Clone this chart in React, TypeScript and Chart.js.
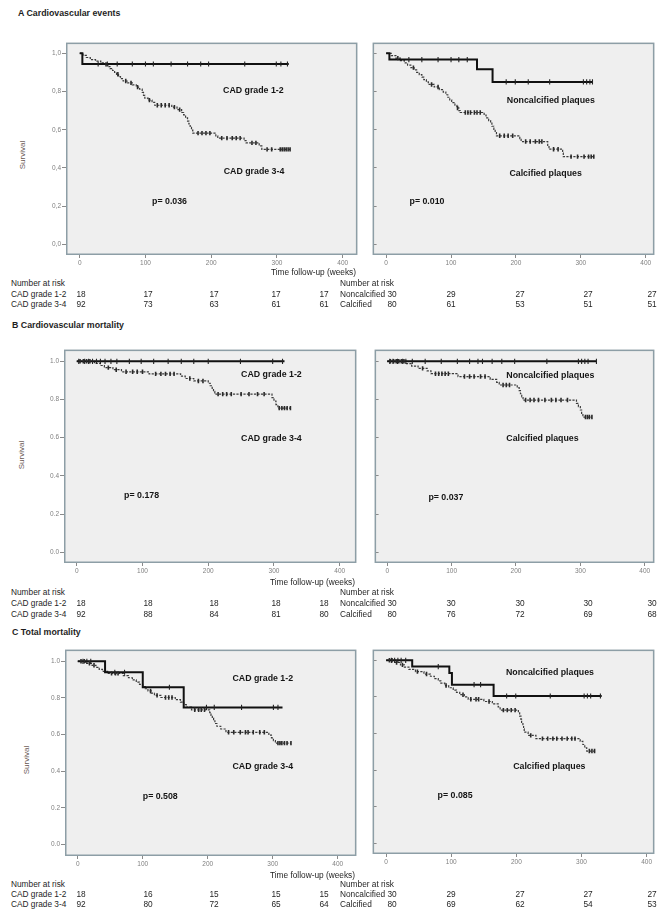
import React, { useEffect, useRef } from 'react';
import { Chart, registerables } from 'chart.js';
Chart.register(...registerables);

type Step = [number, number];

const FONT = '"Liberation Sans", Arial, sans-serif';

// ---------------- DATA ----------------
const xTicks = [0, 100, 200, 300, 400];
const yTicks = [0, 0.2, 0.4, 0.6, 0.8, 1.0];

// Number at risk (at 0,100,200,300,400 weeks)
const riskA_cad12 = [18, 17, 17, 17, 17];
const riskA_cad34 = [92, 73, 63, 61, 61];
const riskA_noncalc = [30, 29, 27, 27, 27];
const riskA_calc = [80, 61, 53, 51, 51];
const riskB_cad12 = [18, 18, 18, 18, 18];
const riskB_cad34 = [92, 88, 84, 81, 80];
const riskB_noncalc = [30, 30, 30, 30, 30];
const riskB_calc = [80, 76, 72, 69, 68];
const riskC_cad12 = [18, 16, 15, 15, 15];
const riskC_cad34 = [92, 80, 72, 65, 64];
const riskC_noncalc = [30, 29, 27, 27, 27];
const riskC_calc = [80, 69, 62, 54, 53];

// A: Cardiovascular events — CAD grade
const A_cad12: Step[] = [[0, 1], [4, 0.944], [318, 0.944]];
const A_cad12_cens = [28, 42, 57, 80, 100, 112, 139, 164, 184, 196, 251, 299, 306, 316];
const A_cad34: Step[] = [[0, 1], [5, 0.989], [10, 0.978], [16, 0.967], [24, 0.959], [32, 0.95], [38, 0.942], [43, 0.93], [46, 0.92], [50, 0.91], [53, 0.9], [56, 0.89], [59, 0.878], [62, 0.867], [66, 0.855], [72, 0.845], [80, 0.835], [86, 0.823], [91, 0.812], [95, 0.795], [97, 0.78], [99, 0.765], [104, 0.755], [110, 0.743], [114, 0.728], [140, 0.718], [148, 0.705], [155, 0.69], [158, 0.678], [161, 0.662], [164, 0.645], [166, 0.63], [168, 0.612], [170, 0.598], [172, 0.582], [207, 0.568], [210, 0.556], [250, 0.543], [253, 0.531], [273, 0.515], [277, 0.497], [320, 0.497]];
const A_cad34_cens = [40, 58, 70, 78, 88, 106, 118, 124, 130, 136, 144, 152, 180, 186, 192, 198, 216, 224, 232, 238, 244, 262, 268, 285, 292, 305, 308, 311, 314, 317, 320];

// A: Cardiovascular events — plaques
const A_noncalc: Step[] = [[0, 1], [5, 0.967], [140, 0.916], [164, 0.85], [318, 0.85]];
const A_noncalc_cens = [35, 55, 80, 100, 112, 125, 185, 199, 219, 252, 304, 309, 314, 318];
const A_calc: Step[] = [[0, 1], [8, 0.988], [15, 0.975], [22, 0.962], [28, 0.95], [33, 0.938], [38, 0.925], [43, 0.913], [47, 0.9], [51, 0.888], [55, 0.875], [58, 0.862], [62, 0.85], [65, 0.837], [74, 0.824], [82, 0.81], [88, 0.797], [92, 0.783], [95, 0.77], [98, 0.756], [101, 0.742], [106, 0.728], [109, 0.714], [112, 0.7], [114, 0.69], [151, 0.676], [154, 0.662], [158, 0.648], [161, 0.634], [163, 0.618], [166, 0.602], [168, 0.585], [170, 0.568], [206, 0.553], [208, 0.538], [249, 0.518], [251, 0.498], [272, 0.478], [273, 0.459], [321, 0.459]];
const A_calc_cens = [18, 42, 70, 80, 110, 122, 126, 130, 136, 140, 145, 175, 182, 188, 195, 215, 222, 230, 236, 240, 258, 265, 285, 295, 305, 312, 316, 320];

// B: Cardiovascular mortality — CAD grade
const B_cad12: Step[] = [[0, 1], [316, 1]];
const B_cad12_cens = [3, 12, 18, 24, 30, 36, 43, 52, 61, 80, 98, 117, 139, 159, 178, 200, 249, 298, 313];
const B_cad34: Step[] = [[0, 1], [27, 0.989], [36, 0.978], [42, 0.967], [55, 0.956], [68, 0.945], [110, 0.934], [158, 0.922], [165, 0.91], [178, 0.897], [200, 0.885], [203, 0.872], [206, 0.858], [208, 0.843], [210, 0.828], [297, 0.81], [300, 0.792], [303, 0.773], [306, 0.755], [325, 0.755]];
const B_cad34_cens = [5, 10, 15, 20, 48, 60, 75, 85, 92, 100, 120, 128, 135, 142, 148, 172, 185, 192, 215, 222, 228, 235, 250, 262, 275, 285, 308, 312, 316, 320, 325];

// B: Cardiovascular mortality — plaques
const B_noncalc: Step[] = [[0, 1], [325, 1]];
const B_noncalc_cens = [4, 9, 16, 24, 29, 39, 59, 84, 109, 128, 141, 148, 163, 178, 198, 248, 297, 302, 307, 312, 325];
const B_calc: Step[] = [[0, 1], [30, 0.988], [38, 0.975], [48, 0.963], [62, 0.95], [68, 0.935], [110, 0.92], [160, 0.905], [170, 0.89], [174, 0.876], [202, 0.862], [205, 0.846], [207, 0.83], [209, 0.814], [211, 0.797], [294, 0.78], [297, 0.763], [300, 0.745], [302, 0.727], [304, 0.708], [318, 0.708]];
const B_calc_cens = [5, 10, 14, 18, 22, 26, 55, 75, 80, 85, 90, 95, 120, 128, 135, 145, 152, 180, 185, 190, 215, 222, 228, 235, 245, 255, 262, 270, 280, 308, 311, 314, 318];

// C: Total mortality — CAD grade
const C_cad12: Step[] = [[0, 1], [42, 0.94], [100, 0.858], [163, 0.748], [315, 0.748]];
const C_cad12_cens = [8, 14, 20, 57, 72, 141, 198, 210, 252, 301, 308];
const C_cad34: Step[] = [[0, 1], [12, 0.989], [22, 0.978], [28, 0.967], [33, 0.956], [38, 0.945], [46, 0.934], [70, 0.922], [78, 0.91], [84, 0.898], [90, 0.886], [95, 0.874], [100, 0.862], [104, 0.85], [108, 0.838], [113, 0.826], [118, 0.814], [128, 0.802], [150, 0.79], [158, 0.777], [163, 0.763], [167, 0.749], [175, 0.735], [203, 0.72], [205, 0.705], [207, 0.69], [209, 0.675], [211, 0.66], [214, 0.645], [220, 0.63], [228, 0.612], [294, 0.597], [298, 0.582], [301, 0.567], [304, 0.553], [328, 0.553]];
const C_cad34_cens = [5, 10, 18, 25, 52, 58, 62, 112, 122, 135, 140, 145, 180, 186, 190, 195, 232, 240, 250, 258, 262, 270, 280, 287, 308, 311, 314, 318, 322, 328];

// C: Total mortality — plaques
const C_noncalc: Step[] = [[0, 1], [40, 0.966], [97, 0.93], [101, 0.867], [165, 0.805], [331, 0.805]];
const C_noncalc_cens = [8, 13, 18, 23, 30, 80, 135, 145, 185, 199, 252, 304, 309, 314, 329];
const C_calc: Step[] = [[0, 1], [14, 0.988], [22, 0.975], [28, 0.963], [35, 0.95], [45, 0.938], [58, 0.925], [68, 0.913], [74, 0.9], [80, 0.888], [84, 0.875], [90, 0.862], [96, 0.85], [103, 0.837], [108, 0.825], [113, 0.812], [120, 0.8], [126, 0.787], [150, 0.775], [163, 0.762], [172, 0.745], [175, 0.728], [203, 0.713], [205, 0.695], [207, 0.677], [208, 0.66], [210, 0.642], [211, 0.625], [212, 0.607], [218, 0.59], [230, 0.572], [298, 0.557], [302, 0.54], [305, 0.522], [308, 0.504], [322, 0.504]];
const C_calc_cens = [5, 9, 16, 25, 48, 62, 92, 118, 130, 138, 142, 158, 180, 186, 192, 198, 222, 240, 248, 256, 262, 270, 278, 285, 290, 312, 316, 320];

// ---------------- HELPERS ----------------
const kmAt = (steps: Step[], t: number) => {
  let s = steps[0][1];
  for (const [tt, ss] of steps) {
    if (tt <= t) s = ss;
    else break;
  }
  return s;
};

type Note = { text: string; x: number; y: number };
type Geo = { fx: number; fy: number; fw: number; fh: number; x0: number; x400: number; y1: number; y0: number };

const XH = 16;

function Panel(props: {
  g: Geo; s1: Step[]; c1: number[]; s2: Step[]; c2: number[]; notes: Note[]; comma?: boolean; yLabels: boolean;
}) {
  const { g, s1, c1, s2, c2, notes, comma, yLabels } = props;
  const ref = useRef<HTMLCanvasElement>(null);
  const yw = yLabels ? 30 : 2;
  const cw = g.fw + yw;
  const ch = g.fh + XH;
  useEffect(() => {
    const pxPerX = (g.x400 - g.x0) / 400;
    const xmin = -(g.x0 - g.fx) / pxPerX;
    const xmax = 400 + (g.fx + g.fw - g.x400) / pxPerX;
    const pxPerY = g.y0 - g.y1;
    const ymin = -(g.fy + g.fh - g.y0) / pxPerY;
    const ymax = 1 + (g.y1 - g.fy) / pxPerY;

    const framePlugin = {
      id: 'frame',
      beforeDraw(chart: any) {
        const { ctx, chartArea: a } = chart;
        ctx.save();
        ctx.fillStyle = '#efefef';
        ctx.fillRect(a.left, a.top, a.right - a.left, a.bottom - a.top);
        ctx.restore();
      },
      beforeDatasetsDraw(chart: any) {
        const { ctx, chartArea: a } = chart;
        ctx.save();
        ctx.strokeStyle = '#8d9ea6';
        ctx.lineWidth = 1.5;
        ctx.strokeRect(a.left + 0.75, a.top + 0.75, a.right - a.left - 1.5, a.bottom - a.top - 1.5);
        ctx.restore();
      },
      afterDatasetsDraw(chart: any) {
        const { ctx, scales } = chart;
        ctx.save();
        ctx.font = `bold 8.8px ${FONT}`;
        ctx.fillStyle = '#151515';
        ctx.textAlign = 'left';
        ctx.textBaseline = 'middle';
        for (const n of notes) {
          ctx.fillText(n.text, scales.x.getPixelForValue(n.x), scales.y.getPixelForValue(n.y));
        }
        ctx.restore();
      },
    };

    const lineDs = (steps: Step[], solid: boolean) => ({
      data: steps.map(([x, y]) => ({ x, y })),
      borderColor: solid ? '#111' : '#3a3a3a',
      borderWidth: solid ? 2 : 1.2,
      borderDash: solid ? [] : [2.2, 1.3],
      stepped: 'before' as const,
      pointRadius: 0,
      fill: false,
      order: solid ? 1 : 2,
    });
    const censDs = (steps: Step[], cens: number[], solid: boolean) => ({
      data: cens.map((t) => ({ x: t, y: kmAt(steps, t) })),
      showLine: false,
      pointStyle: 'line' as const,
      pointRotation: 90,
      pointRadius: solid ? 2.6 : 2.2,
      pointBorderWidth: solid ? 1.1 : 1.6,
      pointBorderColor: solid ? '#222' : '#2a2a2a',
      borderColor: '#222',
      order: 0,
    });

    const tickFont = { family: FONT, size: 6.5 };
    const chart = new Chart(ref.current!, {
      type: 'line',
      data: {
        datasets: [lineDs(s1, true), lineDs(s2, false), censDs(s1, c1, true), censDs(s2, c2, false)] as any,
      },
      options: {
        animation: false,
        responsive: false,
        devicePixelRatio: 1,
        events: [],
        layout: { padding: 0 },
        plugins: { legend: { display: false }, tooltip: { enabled: false }, title: { display: false } },
        scales: {
          x: {
            type: 'linear',
            min: xmin,
            max: xmax,
            afterBuildTicks: (a: any) => { a.ticks = xTicks.map((v) => ({ value: v })); },
            afterFit: (s: any) => { s.height = XH; s.paddingLeft = 0; s.paddingRight = 0; },
            border: { display: false },
            grid: { drawOnChartArea: false, drawTicks: true, tickLength: 3, color: '#8a8a8a', lineWidth: 1 },
            ticks: { font: tickFont, color: '#808080', padding: 1, maxRotation: 0, autoSkip: false, callback: (v: any) => String(v) },
          },
          y: {
            type: 'linear',
            min: ymin,
            max: ymax,
            afterBuildTicks: (a: any) => { a.ticks = yTicks.map((v) => ({ value: v })); },
            afterFit: (s: any) => { s.width = yw; s.paddingTop = 0; s.paddingBottom = 0; },
            border: { display: false },
            grid: { drawOnChartArea: false, drawTicks: true, tickLength: yLabels ? 4 : -4, color: '#8a8a8a', lineWidth: 1 },
            ticks: {
              display: yLabels,
              font: tickFont,
              color: '#808080',
              padding: 1,
              callback: (v: any) => (comma ? Number(v).toFixed(1).replace('.', ',') : Number(v).toFixed(1)),
            },
          },
        },
      } as any,
      plugins: [framePlugin],
    });
    return () => chart.destroy();
  }, []);
  return (
    <canvas
      ref={ref}
      width={cw}
      height={ch}
      style={{ position: 'absolute', left: g.fx - yw, top: g.fy, width: cw, height: ch }}
    />
  );
}

const Txt = (p: { x: number; y: number; t: string | number; size?: number; bold?: boolean; center?: boolean; color?: string }) => {
  const size = p.size ?? 8.3;
  return (
    <div
      style={{
        position: 'absolute',
        left: p.x,
        top: p.y - size * 0.6,
        fontSize: size,
        lineHeight: `${size * 1.2}px`,
        fontWeight: p.bold ? 700 : 400,
        color: p.color ?? '#1e1e1e',
        whiteSpace: 'nowrap',
        fontFamily: FONT,
        transform: p.center ? 'translateX(-50%)' : undefined,
      }}
    >
      {p.t}
    </div>
  );
};

const VTxt = (p: { x: number; y: number; t: string }) => (
  <div
    style={{
      position: 'absolute',
      left: p.x,
      top: p.y,
      fontSize: 8,
      lineHeight: '10px',
      color: '#6a5a55',
      whiteSpace: 'nowrap',
      fontFamily: FONT,
      transform: 'translate(-50%, -50%) rotate(-90deg)',
    }}
  >
    {p.t}
  </div>
);

const colL = [81, 148, 214, 276, 324];
const colR = [392, 451, 520, 588, 652];

function RiskTable(p: { y: number[]; l1: number[]; l2: number[]; r1: number[]; r2: number[] }) {
  const [y0, y1, y2] = p.y;
  return (
    <>
      <Txt x={11} y={y0} t="Number at risk" />
      <Txt x={11} y={y1} t="CAD grade 1-2" />
      <Txt x={11} y={y2} t="CAD grade 3-4" />
      {p.l1.map((v, i) => <Txt key={'a' + i} x={colL[i]} y={y1} t={v} center />)}
      {p.l2.map((v, i) => <Txt key={'b' + i} x={colL[i]} y={y2} t={v} center />)}
      <Txt x={340} y={y0} t="Number at risk" />
      <Txt x={340} y={y1} t="Noncalcified" />
      <Txt x={340} y={y2} t="Calcified" />
      {p.r1.map((v, i) => <Txt key={'c' + i} x={colR[i]} y={y1} t={v} center />)}
      {p.r2.map((v, i) => <Txt key={'d' + i} x={colR[i]} y={y2} t={v} center />)}
    </>
  );
}

export default function App() {
  useEffect(() => {
    document.body.style.margin = '0';
  }, []);
  return (
    <div style={{ position: 'absolute', left: 0, top: 0, width: 658, height: 911, overflow: 'hidden', background: '#fff', fontFamily: FONT }}>
      {/* Row A */}
      <Txt x={18} y={13} t="A  Cardiovascular events" bold size={8.8} />
      <VTxt x={23} y={155} t="Survival" />
      <Panel
        g={{ fx: 66, fy: 37, fw: 297, fh: 218, x0: 80, x400: 348, y1: 48, y0: 244 }}
        s1={A_cad12} c1={A_cad12_cens} s2={A_cad34} c2={A_cad34_cens} comma yLabels
        notes={[{ text: 'CAD grade 1-2', x: 218, y: 0.806 }, { text: 'CAD grade 3-4', x: 219, y: 0.383 }, { text: 'p= 0.036', x: 110, y: 0.224 }]}
      />
      <Panel
        g={{ fx: 369, fy: 37, fw: 291, fh: 218, x0: 383, x400: 651, y1: 48, y0: 244 }}
        s1={A_noncalc} c1={A_noncalc_cens} s2={A_calc} c2={A_calc_cens} yLabels={false}
        notes={[{ text: 'Noncalcified plaques', x: 186, y: 0.755 }, { text: 'Calcified plaques', x: 190, y: 0.372 }, { text: 'p= 0.010', x: 36, y: 0.224 }]}
      />
      <Txt x={271} y={273} t="Time follow-up (weeks)" />
      <RiskTable y={[284, 294.5, 305]} l1={riskA_cad12} l2={riskA_cad34} r1={riskA_noncalc} r2={riskA_calc} />

      {/* Row B */}
      <Txt x={12} y={325} t="B  Cardiovascular mortality" bold size={8.8} />
      <VTxt x={22} y={455} t="Survival" />
      <Panel
        g={{ fx: 64, fy: 344, fw: 298, fh: 219, x0: 77, x400: 345, y1: 356, y0: 552 }}
        s1={B_cad12} c1={B_cad12_cens} s2={B_cad34} c2={B_cad34_cens} yLabels
        notes={[{ text: 'CAD grade 1-2', x: 250, y: 0.929 }, { text: 'CAD grade 3-4', x: 250, y: 0.597 }, { text: 'p= 0.178', x: 72, y: 0.296 }]}
      />
      <Panel
        g={{ fx: 371, fy: 344, fw: 289, fh: 219, x0: 384, x400: 650, y1: 356, y0: 552 }}
        s1={B_noncalc} c1={B_noncalc_cens} s2={B_calc} c2={B_calc_cens} yLabels={false}
        notes={[{ text: 'Noncalcified plaques', x: 185, y: 0.923 }, { text: 'Calcified plaques', x: 185, y: 0.597 }, { text: 'p= 0.037', x: 64, y: 0.286 }]}
      />
      <Txt x={270} y={583} t="Time follow-up (weeks)" />
      <RiskTable y={[593, 604, 614.5]} l1={riskB_cad12} l2={riskB_cad34} r1={riskB_noncalc} r2={riskB_calc} />

      {/* Row C */}
      <Txt x={12} y={632} t="C  Total mortality" bold size={8.8} />
      <VTxt x={27} y={760} t="Survival" />
      <Panel
        g={{ fx: 65, fy: 644, fw: 297, fh: 212, x0: 78, x400: 343, y1: 656, y0: 844 }}
        s1={C_cad12} c1={C_cad12_cens} s2={C_cad34} c2={C_cad34_cens} yLabels
        notes={[{ text: 'CAD grade 1-2', x: 238, y: 0.904 }, { text: 'CAD grade 3-4', x: 238, y: 0.426 }, { text: 'p= 0.508', x: 100, y: 0.261 }]}
      />
      <Panel
        g={{ fx: 369, fy: 644, fw: 291, fh: 210, x0: 383, x400: 652, y1: 655, y0: 843 }}
        s1={C_noncalc} c1={C_noncalc_cens} s2={C_calc} c2={C_calc_cens} yLabels={false}
        notes={[{ text: 'Noncalcified plaques', x: 184, y: 0.931 }, { text: 'Calcified plaques', x: 195, y: 0.42 }, { text: 'p= 0.085', x: 79, y: 0.261 }]}
      />
      <Txt x={270} y={876} t="Time follow-up (weeks)" />
      <RiskTable y={[885, 895, 905]} l1={riskC_cad12} l2={riskC_cad34} r1={riskC_noncalc} r2={riskC_calc} />
    </div>
  );
}
